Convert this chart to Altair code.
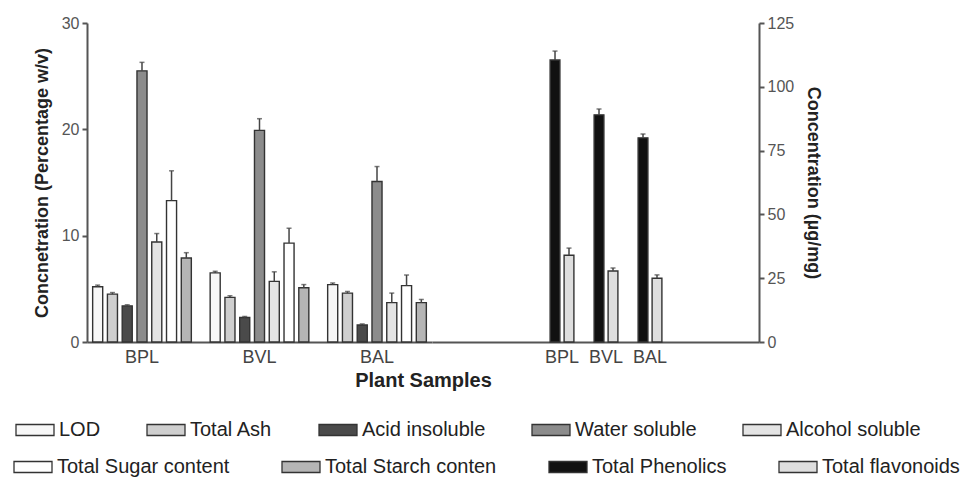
import altair as alt
import pandas as pd

samples = ["BPL", "BVL", "BAL"]
left_series = ["LOD", "Total Ash", "Acid insoluble", "Water soluble",
               "Alcohol soluble", "Total Sugar content", "Total Starch conten"]
right_series = ["Total Phenolics", "Total flavonoids"]
all_series = left_series + right_series
legend_row1 = ["LOD", "Total Ash", "Acid insoluble", "Water soluble", "Alcohol soluble"]
legend_row2 = ["Total Sugar content", "Total Starch conten", "Total Phenolics",
               "Total flavonoids"]

# values (per sample: BPL, BVL, BAL)
lod = [5.2, 6.5, 5.4]
lod_err = [0.15, 0.15, 0.15]
ash = [4.5, 4.2, 4.6]
ash_err = [0.15, 0.15, 0.15]
acid = [3.4, 2.3, 1.6]
acid_err = [0.1, 0.1, 0.1]
water = [25.5, 19.9, 15.1]
water_err = [0.8, 1.1, 1.4]
alcohol = [9.4, 5.7, 3.7]
alcohol_err = [0.8, 0.9, 0.9]
sugar = [13.3, 9.3, 5.3]
sugar_err = [2.8, 1.4, 1.0]
starch = [7.9, 5.1, 3.7]
starch_err = [0.5, 0.3, 0.3]
phenolics = [110.5, 89.0, 80.0]
phenolics_err = [3.5, 2.3, 1.5]
flavonoids = [34.0, 27.8, 25.0]
flavonoids_err = [2.8, 1.2, 1.3]

values = {
    "LOD": (lod, lod_err),
    "Total Ash": (ash, ash_err),
    "Acid insoluble": (acid, acid_err),
    "Water soluble": (water, water_err),
    "Alcohol soluble": (alcohol, alcohol_err),
    "Total Sugar content": (sugar, sugar_err),
    "Total Starch conten": (starch, starch_err),
    "Total Phenolics": (phenolics, phenolics_err),
    "Total flavonoids": (flavonoids, flavonoids_err),
}

rows = []
for s in all_series:
    v, e = values[s]
    for i, smp in enumerate(samples):
        rows.append({"sample": smp, "series": s, "value": v[i], "err": e[i],
                     "upper": v[i] + e[i]})
df = pd.DataFrame(rows)

# right panel: empty slots around the three samples to leave the gap
right_domain = ["_a", "_b"] + samples + ["_c", "_d"]

fill_of = {
    "LOD": "#f7f7f7", "Total Ash": "#cfcfcf", "Acid insoluble": "#4a4a4a",
    "Water soluble": "#8c8c8c", "Alcohol soluble": "#e4e4e4",
    "Total Sugar content": "#ffffff", "Total Starch conten": "#b5b5b5",
    "Total Phenolics": "#111111", "Total flavonoids": "#dedede",
}

FONT = "Liberation Sans"
AX = "#555555"
SYM = "M-1,-0.29H1V0.29H-1Z"
NO_VIEW = alt.ViewBackground(stroke="transparent", strokeWidth=0, strokeOpacity=0)


def legend(x, y, ncol, pad):
    return alt.Legend(
        title=None, orient="none", legendX=x, legendY=y,
        direction="horizontal", columns=ncol, columnPadding=pad,
        symbolType=SYM, symbolSize=1444,
        symbolStrokeColor="#333333", symbolStrokeWidth=1.3,
        labelFontSize=20, labelFont=FONT, labelColor="#222222",
        labelOffset=4, labelLimit=400, symbolOpacity=1,
    )


fill_enc = alt.Fill(
    "series:N",
    scale=alt.Scale(domain=legend_row1, range=[fill_of[s] for s in legend_row1]),
    legend=legend(-72, 387, 5, 43),
)
color_enc = alt.Color(
    "series:N",
    scale=alt.Scale(domain=legend_row2, range=[fill_of[s] for s in legend_row2]),
    legend=legend(-74, 424, 4, 49),
)

left_ytitle = "Concnetration (Percentage w/v)"
right_ytitle = "Concentration (\u00b5g/mg)"


def yaxis(orient, vals, title):
    return alt.Axis(orient=orient, values=vals, title=title, grid=False,
                    titleFontSize=18, titleFontWeight="bold", titleFont=FONT,
                    titleColor="#222222", labelFont=FONT, labelFontSize=16,
                    labelColor=AX, tickSize=5, tickWidth=2, tickColor=AX,
                    domainWidth=2, domainColor=AX, labelPadding=3,
                    titlePadding=10)


def panel(series, x_scale, off_scale, y_domain, y_axis, x_axis):
    data = df[df["series"].isin(series)]
    x = alt.X("sample:N", scale=x_scale, axis=x_axis)
    xo = alt.XOffset("series:N", scale=off_scale)
    ysc = alt.Scale(domain=y_domain, nice=False, zero=True)
    y = alt.Y("value:Q", scale=ysc, axis=y_axis)
    layers = []
    r1 = [s for s in series if s in legend_row1]
    r2 = [s for s in series if s in legend_row2]
    base_bar = dict(stroke="#333333", strokeWidth=1.4)
    if r1:
        layers.append(alt.Chart(data[data["series"].isin(r1)]).mark_bar(**base_bar).encode(
            x=x, xOffset=xo, y=y, fill=fill_enc))
    if r2:
        layers.append(alt.Chart(data[data["series"].isin(r2)]).mark_bar(**base_bar).encode(
            x=x, xOffset=xo, y=y, color=color_enc))
    layers.append(alt.Chart(data).mark_rule(color="#444444", strokeWidth=1.5).encode(
        x=x, xOffset=xo, y=y, y2="upper:Q"))
    layers.append(alt.Chart(data).mark_tick(color="#444444", thickness=1.5, size=5).encode(
        x=x, xOffset=xo, y=alt.Y("upper:Q", scale=ysc, axis=y_axis)))
    return alt.layer(*layers, view=NO_VIEW)


xaxis_common = dict(labelAngle=0, ticks=False, grid=False, labelFont=FONT,
                    labelFontSize=18, labelColor="#444444", labelPadding=6,
                    domainWidth=2, domainColor=AX, titleFont=FONT,
                    titleFontSize=20, titleFontWeight="bold", titleColor="#222222",
                    labelExpr="indexof(['BPL','BVL','BAL'], datum.value) >= 0 ? datum.value : ''")

left = panel(
    left_series,
    alt.Scale(domain=samples, paddingInner=0.12, paddingOuter=0.028),
    alt.Scale(domain=left_series, paddingInner=0.32, paddingOuter=0.16),
    [0, 30],
    yaxis("left", [0, 10, 20, 30], left_ytitle),
    alt.Axis(title="Plant Samples", titleX=336, titlePadding=4, **xaxis_common),
).properties(width=345, height=319)

right = panel(
    right_series,
    alt.Scale(domain=right_domain, paddingInner=0.364, paddingOuter=0.398, align=0.8),
    alt.Scale(domain=right_series, paddingInner=0.3, paddingOuter=0.15),
    [0, 125],
    yaxis("right", [0, 25, 50, 75, 100, 125], right_ytitle),
    alt.Axis(title=None, **xaxis_common),
).properties(width=327, height=319)

chart = alt.hconcat(left, right, spacing=0, bounds="flush").resolve_scale(
    color="shared", fill="shared", x="independent", y="independent",
    xOffset="independent"
).configure_view(stroke="transparent", strokeWidth=0, strokeOpacity=0).configure_axis(
    grid=False
).configure(
    font=FONT, background="white",
    padding={"left": 5, "top": 7, "right": 0, "bottom": 0})

chart.save("out.html", embed_options={"renderer": "svg", "actions": False})
